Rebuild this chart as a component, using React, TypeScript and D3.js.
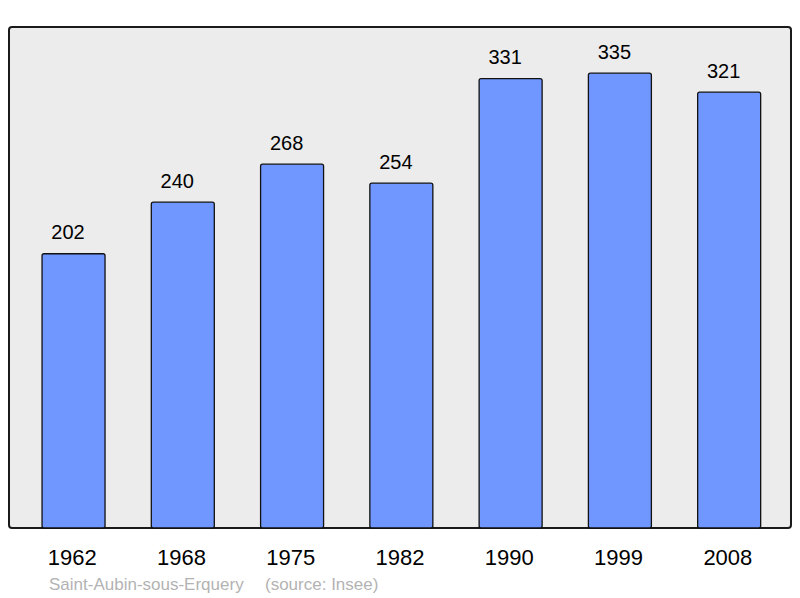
import React from "react";
import * as d3 from "d3";

const years = ["1962", "1968", "1975", "1982", "1990", "1999", "2008"];
const population = [202, 240, 268, 254, 331, 335, 321];
const placeName = "Saint-Aubin-sous-Erquery";
const sourceText = "(source: Insee)";

const W = 800;
const H = 598;
const frame = { x: 9, y: 27, w: 782, h: 501 };
const yMax = 369;

export default function App() {
  const x = d3
    .scaleBand<string>()
    .domain(years)
    .range([18.9, 783.8])
    .paddingInner(0.4235)
    .paddingOuter(0.21175);
  const y = d3.scaleLinear().domain([0, yMax]).range([frame.y + frame.h, frame.y]);
  const font = "'Liberation Sans', Arial, sans-serif";

  return (
    <svg
      width={W}
      height={H}
      style={{ position: "absolute", left: 0, top: 0, background: "#fff" }}
      fontFamily={font}
    >
      <rect
        x={frame.x}
        y={frame.y}
        width={frame.w}
        height={frame.h}
        rx={3}
        fill="#ececec"
        stroke="#1a1a1a"
        strokeWidth={2}
      />
      {years.map((yr, i) => {
        const bx = x(yr)!;
        const by = y(population[i]);
        const cx = bx + x.bandwidth() / 2;
        return (
          <g key={yr}>
            <rect
              x={bx}
              y={by}
              width={x.bandwidth()}
              height={y(0) - by}
              rx={2}
              fill="#7096ff"
              stroke="#111"
              strokeWidth={1.3}
            />
            <text x={cx - 5.5} y={by - 14.3} textAnchor="middle" fontSize={20} fill="#000">
              {population[i]}
            </text>
            <text x={cx - 1.3} y={564.5} textAnchor="middle" fontSize={22} fill="#000">
              {yr}
            </text>
          </g>
        );
      })}
      <text x={49} y={590} fontSize={17} fill="#b3b3b3">
        {placeName}
      </text>
      <text x={265} y={590} fontSize={17} fill="#b3b3b3">
        {sourceText}
      </text>
    </svg>
  );
}
